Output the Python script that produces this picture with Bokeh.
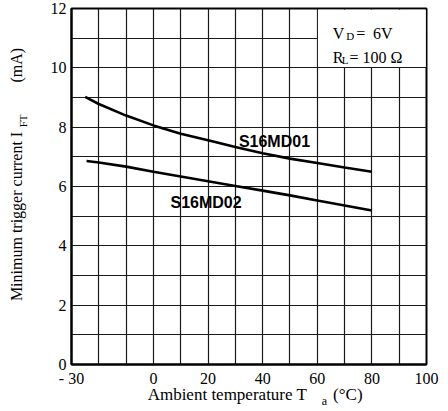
from bokeh.plotting import figure
from bokeh.models import Range1d, FixedTicker, Label, LinearAxis
from bokeh.embed import file_html
from bokeh.resources import INLINE

# ---- data ----
temp_md01 = [-25, -20, -10, 0, 10, 20, 30, 40, 50, 60, 70, 80]
ift_md01 = [9.02, 8.78, 8.39, 8.06, 7.78, 7.56, 7.33, 7.12, 6.94, 6.79, 6.64, 6.50]
temp_md02 = [-24.5, -20, -10, 0, 10, 20, 30, 40, 50, 60, 70, 80]
ift_md02 = [6.86, 6.81, 6.67, 6.50, 6.34, 6.18, 6.02, 5.86, 5.70, 5.53, 5.36, 5.19]
series_names = ["S16MD01", "S16MD02"]
x_tick_values = [-30, 0, 20, 40, 60, 80, 100]
x_tick_labels = ["- 30", "0", "20", "40", "60", "80", "100"]
y_tick_values = [0, 2, 4, 6, 8, 10, 12]
x_grid_values = list(range(-30, 101, 10))
y_grid_values = list(range(0, 13))

SERIF = "Liberation Serif"
SANS = "Liberation Sans"

p = figure(width=448, height=411, output_backend="svg", toolbar_location=None,
           x_range=Range1d(-30, 100), y_range=Range1d(0, 12),
           min_border_left=71, min_border_right=22, min_border_top=8, min_border_bottom=47)
p.background_fill_color = "white"
p.border_fill_color = "white"
p.outline_line_color = "black"
p.outline_line_width = 2

# axes
p.xaxis.ticker = FixedTicker(ticks=x_tick_values)
p.xaxis.major_label_overrides = {v: t for v, t in zip(x_tick_values, x_tick_labels)}
p.yaxis.ticker = FixedTicker(ticks=y_tick_values)
p.axis.axis_line_color = "black"
p.axis.axis_line_width = 2
p.axis.major_tick_line_color = None
p.axis.minor_tick_line_color = None
p.axis.major_tick_out = 0
p.axis.major_tick_in = 0
p.axis.major_label_text_font = SERIF
p.axis.major_label_text_font_size = "16px"
p.axis.major_label_text_color = "black"
p.xaxis.major_label_standoff = 5
p.yaxis.major_label_standoff = 5


def text_axis(side, positions, texts, size, standoff, vertical=False):
    ax = LinearAxis(ticker=FixedTicker(ticks=positions),
                    major_label_overrides={v: t for v, t in zip(positions, texts)},
                    axis_line_color=None, major_tick_line_color=None,
                    minor_tick_line_color=None, major_tick_out=0, major_tick_in=0,
                    major_label_text_font=SERIF, major_label_text_font_size=size,
                    major_label_text_color="black", major_label_standoff=standoff)
    if vertical:
        ax.major_label_orientation = "vertical"
    p.add_layout(ax, side)
    return ax

# x axis title, with subscript "a"
text_axis("below", [27.1, 71.2], ["Ambient temperature T", "(°C)"], "17px", -5)
text_axis("below", [62.6], ["a"], "12px", -13)

# y axis title (rotated), with subscript "FT"
text_axis("left", [8.21], ["FT"], "11px", 18, vertical=True)
text_axis("left", [4.99, 10.09], ["Minimum trigger current I", "(mA)"], "16px", -11, vertical=True)

# grid
p.xgrid.ticker = FixedTicker(ticks=x_grid_values)
p.ygrid.ticker = FixedTicker(ticks=y_grid_values)
p.grid.grid_line_color = "#1a1a1a"
p.grid.grid_line_width = 1.2

# white box for conditions (covers grid in upper-right cells)
p.quad(left=[60.25], right=[99.75], bottom=[10.03], top=[11.96],
       fill_color="white", line_color=None)

# curves
p.line(temp_md01, ift_md01, line_color="black", line_width=2.6)
p.line(temp_md02, ift_md02, line_color="black", line_width=2.6)

# series labels
p.add_layout(Label(x=31.3, y=7.52, text=series_names[0], text_font=SANS,
                   text_font_style="bold", text_font_size="16px",
                   text_baseline="middle", text_align="left", text_color="black"))
p.add_layout(Label(x=6.25, y=5.47, text=series_names[1], text_font=SANS,
                   text_font_style="bold", text_font_size="16px",
                   text_baseline="middle", text_align="left", text_color="black"))

def lab(x, y, text, size="16px"):
    p.add_layout(Label(x=x, y=y, text=text, text_font=SERIF, text_font_size=size,
                       text_baseline="alphabetic", text_align="left", text_color="black"))

# conditions text
lab(65.7, 11.15, "V")
lab(70.6, 11.06, "D", size="11px")
lab(74.3, 11.15, "=")
lab(80.4, 11.15, "6V")
lab(65.7, 10.35, "R")
lab(69.0, 10.27, "L", size="11px")
lab(71.8, 10.35, "= 100 Ω")

open("out.html", "w").write(file_html(p, INLINE))
